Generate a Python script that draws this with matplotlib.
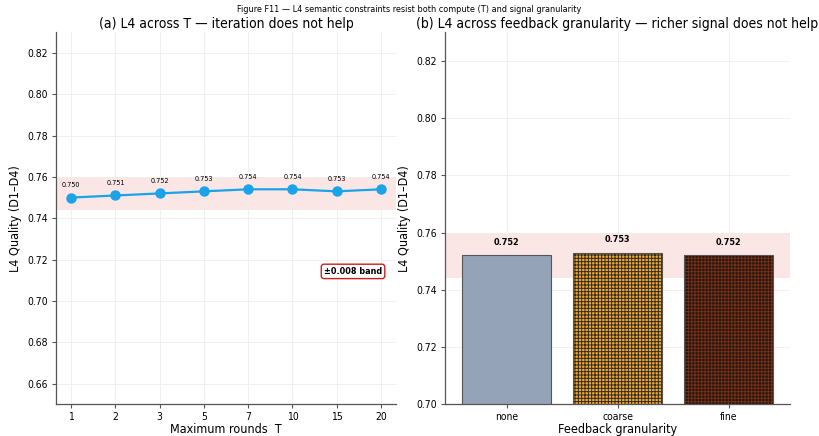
import matplotlib
matplotlib.use("Agg")
import matplotlib.pyplot as plt
import numpy as np

plt.rcParams['font.family'] = ['DejaVu Sans']
plt.rcParams['font.stretch'] = 'condensed'
plt.rcParams['hatch.linewidth'] = 0.7

# Panel (a): L4 quality vs maximum rounds T
t_labels = ["1", "2", "3", "5", "7", "10", "15", "20"]
l4_by_t = [0.750, 0.751, 0.752, 0.753, 0.754, 0.754, 0.753, 0.754]

# Panel (b): L4 quality vs feedback granularity
granularity = ["none", "coarse", "fine"]
l4_by_gran = [0.752, 0.753, 0.752]

band_center = 0.752
band_half = 0.008

fig = plt.figure(figsize=(8.19, 4.36), dpi=100)
ax1 = fig.add_axes([0.068, 0.073, 0.416, 0.853])
ax2 = fig.add_axes([0.543, 0.073, 0.421, 0.853])

fig.suptitle("Figure F11 — L4 semantic constraints resist both compute (T) and signal granularity",
             fontsize=6.5, y=0.988)

for ax in (ax1, ax2):
    ax.axhspan(band_center - band_half, band_center + band_half, color="#f4a6a6", alpha=0.28,
               lw=0, zorder=0)
    ax.grid(True, color="#eeeeee", lw=0.6, zorder=0)
    ax.set_axisbelow(True)
    for s in ("top", "right"):
        ax.spines[s].set_visible(False)
    for s in ("left", "bottom"):
        ax.spines[s].set_color("#555555")
        ax.spines[s].set_linewidth(0.9)
    ax.tick_params(labelsize=7.5, length=3, pad=2.5, color="#555555")

# (a)
x = np.arange(len(t_labels))
ax1.plot(x, l4_by_t, color="#1aa3e8", lw=1.6, marker="o", ms=6.5, zorder=3)
for xi, v in zip(x, l4_by_t):
    ax1.annotate(f"{v:.3f}", (xi, v), xytext=(0, 7), textcoords="offset points",
                 ha="center", va="bottom", fontsize=5.2)
ax1.set_xticks(x)
ax1.set_xticklabels(t_labels)
ax1.set_xlim(-0.35, len(x) - 1 + 0.35)
ax1.set_ylim(0.65, 0.83)
ax1.set_yticks(np.arange(0.66, 0.821, 0.02))
ax1.yaxis.set_major_formatter(matplotlib.ticker.FormatStrFormatter("%.2f"))
ax1.set_xlabel("Maximum rounds  T", fontsize=9, labelpad=1)
ax1.set_ylabel("L4 Quality (D1–D4)", fontsize=9)
ax1.set_title("(a) L4 across T — iteration does not help", fontsize=10, pad=3)
ax1.text(0.958, 0.357, f"±{band_half:.3f} band", transform=ax1.transAxes, ha="right",
         va="center", fontsize=6.5, fontweight="bold",
         bbox=dict(boxstyle="round,pad=0.3", fc="white", ec="#cc1f1f", lw=1.0))

# (b)
xb = np.arange(len(granularity))
faces = ["#94a3b8", "#f5a623", "#26160d"]
hatches = [None, "+++++", "+++++"]
hatch_cols = ["#444444", "#2a2a2a", "#74301a"]
for xi, v, fc, h, hc in zip(xb, l4_by_gran, faces, hatches, hatch_cols):
    ax2.bar(xi, v, width=0.8, color=fc, edgecolor=hc, hatch=h, lw=0, zorder=2)
    ax2.bar(xi, v, width=0.8, fill=False, edgecolor="#555555", lw=0.8, zorder=3)
    ax2.annotate(f"{v:.3f}", (xi, v), xytext=(0, 6), textcoords="offset points",
                 ha="center", va="bottom", fontsize=6.5, fontweight="bold")
ax2.set_xticks(xb)
ax2.set_xticklabels(granularity)
ax2.set_xlim(-0.56, 2.55)
ax2.set_ylim(0.70, 0.83)
ax2.set_yticks(np.arange(0.70, 0.821, 0.02))
ax2.yaxis.set_major_formatter(matplotlib.ticker.FormatStrFormatter("%.2f"))
ax2.set_xlabel("Feedback granularity", fontsize=9, labelpad=1)
ax2.set_ylabel("L4 Quality (D1–D4)", fontsize=9)
ax2.set_title("(b) L4 across feedback granularity — richer signal does not help", fontsize=10, pad=3)

fig.savefig("out.png", dpi=100)
